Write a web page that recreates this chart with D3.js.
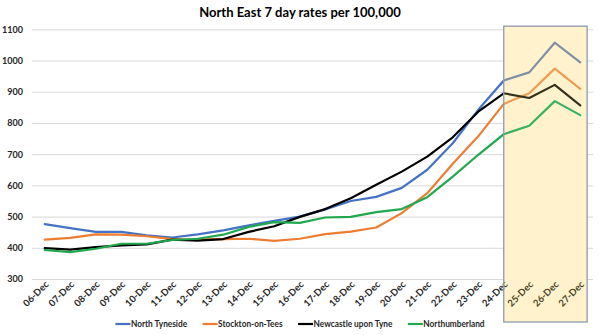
<!DOCTYPE html>
<html>
<head>
<meta charset="utf-8">
<script src="https://cdn.jsdelivr.net/npm/d3@7"></script>
<style>
  html, body { margin: 0; padding: 0; background: #fff; }
  svg { display: block; font-family: Lato, "Open Sans", sans-serif; }
</style>
</head>
<body>
<svg id="chart" width="600" height="335"></svg>
<script>
const title = "North East 7 day rates per 100,000";
const dates = ["06-Dec","07-Dec","08-Dec","09-Dec","10-Dec","11-Dec","12-Dec","13-Dec","14-Dec","15-Dec","16-Dec",
  "17-Dec","18-Dec","19-Dec","20-Dec","21-Dec","22-Dec","23-Dec","24-Dec","25-Dec","26-Dec","27-Dec"];
const seriesNames = ["North Tyneside","Stockton-on-Tees","Newcastle upon Tyne","Northumberland"];
const northTyneside  = [476,463,451,451,440,433,443,456,472,486,500,523,550,563,592,650,735,842,936,962,1057,994];
const stocktonOnTees = [426,432,443,442,437,428,427,428,429,422,429,444,452,465,511,575,669,757,861,895,974,909];
const newcastle      = [399,394,402,408,411,426,423,428,451,469,499,524,559,602,644,692,754,836,895,880,922,856];
const northumberland = [393,386,397,413,413,425,429,442,467,482,480,497,499,514,524,562,628,698,764,791,870,825];
const yTicks = [300,400,500,600,700,800,900,1000,1100];
const highlightDates = ["24-Dec","27-Dec"];

const seriesValues = [northTyneside, stocktonOnTees, newcastle, northumberland];
const colors    = ["#4472C4","#ED7D31","#000000","#21A84F"];
const boxColors = ["#7F8FA6","#EE9C52","#35321C","#35B262"];

const svg = d3.select("#chart");
const pLeft = 32, pRight = 593, pTop = 29.3, pBottom = 279;

const x = d3.scalePoint().domain(dates).range([pLeft, pRight]).padding(0.5);
const y = d3.scaleLinear().domain([300, 1100]).range([pBottom, pTop]);

// title
svg.append("text").attr("x", 300).attr("y", 17).attr("text-anchor", "middle")
  .attr("font-size", 13).attr("font-weight", "bold").attr("fill", "#000").text(title);

// gridlines
const yAxis = d3.axisLeft(y).tickValues(yTicks).tickSize(-(pRight-pLeft)).tickPadding(9).tickFormat(d3.format("d"));
const gy = svg.append("g").attr("transform", `translate(${pLeft},0)`).call(yAxis);
gy.select(".domain").remove();
gy.selectAll(".tick line").attr("stroke", "#D9D9D9").attr("stroke-width", 1);
gy.selectAll(".tick text").attr("font-size", 9).attr("font-weight", "bold").attr("fill", "#262626")
  .attr("font-family", "Lato, sans-serif");

// highlight box (background)
const step = x.step();
const bx0 = x(highlightDates[0]), bx1 = x(highlightDates[1]) + step * 0.27;
const by0 = y(1110), by1 = 322;
svg.append("rect").attr("x", bx0).attr("y", by0).attr("width", bx1 - bx0).attr("height", by1 - by0)
  .attr("fill", "#FFF2CC");

// clip paths
const defs = svg.append("defs");
defs.append("clipPath").attr("id", "outside").append("rect")
  .attr("x", 0).attr("y", 0).attr("width", bx0).attr("height", 335);
defs.append("clipPath").attr("id", "inside").append("rect")
  .attr("x", bx0).attr("y", 0).attr("width", 600 - bx0).attr("height", 335);

const line = d3.line().x((d, i) => x(dates[i])).y(d => y(d));

// x axis labels
const xAxis = d3.axisBottom(x).tickSize(0).tickPadding(0);
function drawXLabels(clipId, color) {
  const g = svg.append("g").attr("clip-path", `url(#${clipId})`)
    .attr("transform", `translate(0,${pBottom})`).call(xAxis);
  g.select(".domain").remove();
  g.selectAll(".tick text")
    .attr("font-size", 9.5).attr("font-weight", "bold").attr("fill", color)
    .attr("font-family", "Lato, sans-serif")
    .attr("text-anchor", "end").attr("dy", 0)
    .attr("transform", "translate(4,6) rotate(-45)");
}
drawXLabels("outside", "#262626");
drawXLabels("inside", "#4A4426");

// lines
[["outside", colors], ["inside", boxColors]].forEach(([clip, cols]) => {
  const g = svg.append("g").attr("clip-path", `url(#${clip})`);
  seriesValues.forEach((vals, k) => {
    g.append("path").datum(vals).attr("d", line)
      .attr("fill", "none").attr("stroke", cols[k]).attr("stroke-width", 2.2)
      .attr("stroke-linejoin", "round").attr("stroke-linecap", "round");
  });
});

// box border
svg.append("rect").attr("x", bx0).attr("y", by0).attr("width", bx1 - bx0).attr("height", by1 - by0)
  .attr("fill", "none").attr("stroke", "#8C9BB0").attr("stroke-width", 1.3);

// legend
const legend = svg.append("g");
const items = legend.selectAll("g").data(seriesNames).join("g");
items.append("line").attr("x1", 0).attr("x2", 15).attr("y1", 0).attr("y2", 0)
  .attr("stroke", (d, i) => colors[i]).attr("stroke-width", 2.2);
const widths = [];
items.append("text").attr("x", 15.5).attr("y", 0).attr("dy", "0.35em")
  .attr("font-size", 9.2).attr("font-weight", "bold").attr("fill", "#262626").text(d => d)
  .each(function() {
    const w = this.getComputedTextLength() * 0.9;
    widths.push(w);
    d3.select(this).attr("textLength", w).attr("lengthAdjust", "spacingAndGlyphs");
  });
let cx = 0; const gap = 15.5; const offs = [];
widths.forEach(w => { offs.push(cx); cx += 15.5 + w + gap; });
const total = cx - gap;
items.attr("transform", (d, i) => `translate(${300 - total / 2 + offs[i]},324)`);
</script>
</body>
</html>
